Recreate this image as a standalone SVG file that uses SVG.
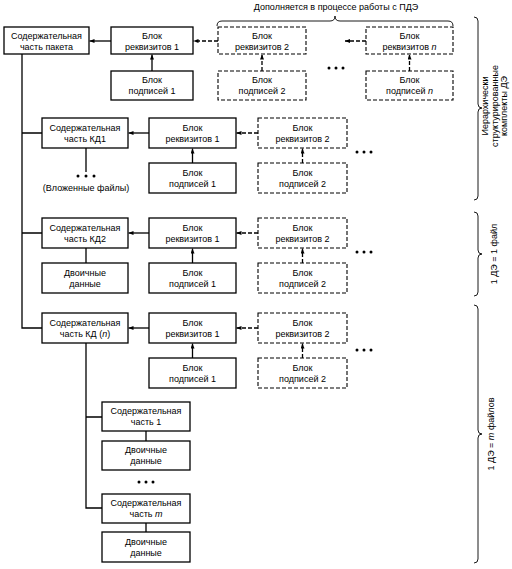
<svg xmlns="http://www.w3.org/2000/svg" width="512" height="569" viewBox="0 0 512 569">
<defs>
<style>
.b{fill:#fff;stroke:#000;stroke-width:1.3}
.d{fill:#fff;stroke:#000;stroke-width:1.1;stroke-dasharray:4 2}
text{font-family:"Liberation Sans",Arial,sans-serif;font-size:9px;fill:#000;text-anchor:middle}
.c{fill:none;stroke:#000;stroke-width:1.3}
.cd{fill:none;stroke:#000;stroke-width:1.3;stroke-dasharray:4 2}
.br{fill:none;stroke:#000;stroke-width:0.9}
</style>
<marker id="a" markerWidth="5" markerHeight="4" refX="5" refY="2" orient="auto" markerUnits="userSpaceOnUse"><path d="M0,0L5,2L0,4Z" fill="#000"/></marker>
</defs>
<rect width="512" height="569" fill="#fff"/>
<g id="connectors">
<path class="c" d="M22 54V328H42M22 133H42M22 233H42"/>
<path class="c" d="M86 148V172M86 248V263M86 343V508H102M86 417H102M146 431V441M146 523V532"/>
<line class="c" x1="111" y1="41" x2="89.5" y2="41" marker-end="url(#a)"/>
<line class="c" x1="152" y1="71" x2="152" y2="54.5" marker-end="url(#a)"/>
<line class="cd" x1="218" y1="41" x2="193.5" y2="41" marker-end="url(#a)"/>
<line class="cd" x1="262" y1="71" x2="262" y2="54.5" marker-end="url(#a)"/>
<line class="cd" x1="366" y1="41" x2="345" y2="41" marker-end="url(#a)"/>
<line class="cd" x1="409.5" y1="71" x2="409.5" y2="54.5" marker-end="url(#a)"/>
<line class="c" x1="149" y1="133" x2="128.5" y2="133" marker-end="url(#a)"/>
<line class="c" x1="192.5" y1="163" x2="192.5" y2="148.5" marker-end="url(#a)"/>
<line class="cd" x1="258" y1="133" x2="236.5" y2="133" marker-end="url(#a)"/>
<line class="cd" x1="302.5" y1="163" x2="302.5" y2="148.5" marker-end="url(#a)"/>
<line class="c" x1="149" y1="233" x2="128.5" y2="233" marker-end="url(#a)"/>
<line class="c" x1="192.5" y1="263" x2="192.5" y2="248.5" marker-end="url(#a)"/>
<line class="cd" x1="258" y1="233" x2="236.5" y2="233" marker-end="url(#a)"/>
<line class="cd" x1="302.5" y1="263" x2="302.5" y2="248.5" marker-end="url(#a)"/>
<line class="c" x1="149" y1="328" x2="128.5" y2="328" marker-end="url(#a)"/>
<line class="c" x1="192.5" y1="358" x2="192.5" y2="343.5" marker-end="url(#a)"/>
<line class="cd" x1="258" y1="328" x2="236.5" y2="328" marker-end="url(#a)"/>
<line class="cd" x1="302.5" y1="358" x2="302.5" y2="343.5" marker-end="url(#a)"/>
</g>
<g id="dots">
<circle cx="329" cy="68" r="1.5"/><circle cx="336" cy="68" r="1.5"/><circle cx="343" cy="68" r="1.5"/>
<circle cx="357" cy="152" r="1.5"/><circle cx="364" cy="152" r="1.5"/><circle cx="371" cy="152" r="1.5"/>
<circle cx="357" cy="252" r="1.5"/><circle cx="364" cy="252" r="1.5"/><circle cx="371" cy="252" r="1.5"/>
<circle cx="357" cy="350" r="1.5"/><circle cx="364" cy="350" r="1.5"/><circle cx="371" cy="350" r="1.5"/>
<circle cx="78" cy="176" r="1.5"/><circle cx="86" cy="176" r="1.5"/><circle cx="94" cy="176" r="1.5"/>
<circle cx="139" cy="482" r="1.5"/><circle cx="146" cy="482" r="1.5"/><circle cx="153" cy="482" r="1.5"/>
</g>
<g id="pkg"><rect class="b" x="4" y="27" width="85" height="27"/><text x="46.5" y="38.5">Содержательная</text><text x="46.5" y="49.5">часть пакета</text></g>
<g id="r1_1"><rect class="b" x="111" y="27" width="82" height="27"/><text x="152" y="38.5">Блок</text><text x="152" y="49.5">реквизитов 1</text></g>
<g id="s1_1"><rect class="b" x="111" y="71" width="82" height="29"/><text x="152" y="83">Блок</text><text x="152" y="94">подписей 1</text></g>
<g id="r1_2"><rect class="d" x="218" y="27" width="88" height="27"/><text x="262" y="38.5">Блок</text><text x="262" y="49.5">реквизитов 2</text></g>
<g id="s1_2"><rect class="d" x="218" y="71" width="88" height="29"/><text x="262" y="83">Блок</text><text x="262" y="94">подписей 2</text></g>
<g id="r1_n"><rect class="d" x="366" y="27" width="87" height="27"/><text x="409.5" y="38.5">Блок</text><text x="409.5" y="49.5">реквизитов <tspan font-style="italic">n</tspan></text></g>
<g id="s1_n"><rect class="d" x="366" y="71" width="87" height="29"/><text x="409.5" y="83">Блок</text><text x="409.5" y="94">подписей <tspan font-style="italic">n</tspan></text></g>
<g id="kd1"><rect class="b" x="42" y="118" width="86" height="30"/><text x="85" y="131">Содержательная</text><text x="85" y="142">часть КД1</text></g>
<g id="r2_1"><rect class="b" x="149" y="118" width="87" height="30"/><text x="192.5" y="131">Блок</text><text x="192.5" y="142">реквизитов 1</text></g>
<g id="s2_1"><rect class="b" x="149" y="163" width="87" height="30"/><text x="192.5" y="176">Блок</text><text x="192.5" y="187">подписей 1</text></g>
<g id="r2_2"><rect class="d" x="258" y="118" width="89" height="30"/><text x="302.5" y="131">Блок</text><text x="302.5" y="142">реквизитов 2</text></g>
<g id="s2_2"><rect class="d" x="258" y="163" width="89" height="30"/><text x="302.5" y="176">Блок</text><text x="302.5" y="187">подписей 2</text></g>
<g id="nested"><text x="86" y="190.5">(Вложенные файлы)</text></g>
<g id="kd2"><rect class="b" x="42" y="218" width="86" height="30"/><text x="85" y="231">Содержательная</text><text x="85" y="242">часть КД2</text></g>
<g id="bin2"><rect class="b" x="42" y="263" width="86" height="30"/><text x="85" y="276">Двоичные</text><text x="85" y="287">данные</text></g>
<g id="r3_1"><rect class="b" x="149" y="218" width="87" height="30"/><text x="192.5" y="231">Блок</text><text x="192.5" y="242">реквизитов 1</text></g>
<g id="s3_1"><rect class="b" x="149" y="263" width="87" height="30"/><text x="192.5" y="276">Блок</text><text x="192.5" y="287">подписей 1</text></g>
<g id="r3_2"><rect class="d" x="258" y="218" width="89" height="30"/><text x="302.5" y="231">Блок</text><text x="302.5" y="242">реквизитов 2</text></g>
<g id="s3_2"><rect class="d" x="258" y="263" width="89" height="30"/><text x="302.5" y="276">Блок</text><text x="302.5" y="287">подписей 2</text></g>
<g id="kdn"><rect class="b" x="42" y="313" width="86" height="30"/><text x="85" y="326">Содержательная</text><text x="85" y="337">часть КД (<tspan font-style="italic">n</tspan>)</text></g>
<g id="r4_1"><rect class="b" x="149" y="313" width="87" height="30"/><text x="192.5" y="326">Блок</text><text x="192.5" y="337">реквизитов 1</text></g>
<g id="s4_1"><rect class="b" x="149" y="358" width="87" height="30"/><text x="192.5" y="371">Блок</text><text x="192.5" y="382">подписей 1</text></g>
<g id="r4_2"><rect class="d" x="258" y="313" width="89" height="30"/><text x="302.5" y="326">Блок</text><text x="302.5" y="337">реквизитов 2</text></g>
<g id="s4_2"><rect class="d" x="258" y="358" width="89" height="30"/><text x="302.5" y="371">Блок</text><text x="302.5" y="382">подписей 2</text></g>
<g id="sub1"><rect class="b" x="102" y="402" width="88" height="29"/><text x="146" y="414">Содержательная</text><text x="146" y="425">часть 1</text></g>
<g id="bin_1"><rect class="b" x="102" y="441" width="88" height="29"/><text x="146" y="453">Двоичные</text><text x="146" y="464">данные</text></g>
<g id="subm"><rect class="b" x="102" y="494" width="88" height="29"/><text x="146" y="506">Содержательная</text><text x="146" y="517">часть <tspan font-style="italic">m</tspan></text></g>
<g id="bin_m"><rect class="b" x="102" y="532" width="88" height="30"/><text x="146" y="544.5">Двоичные</text><text x="146" y="555.5">данные</text></g>
<g id="brace_top">
<path class="br" d="M217 26Q217 21 222 21H330Q335 21 335 16Q335 21 340 21H448Q453 21 453 26"/>
<text x="336" y="10">Дополняется в процессе работы с ПДЭ</text>
</g>
<g id="brace_1">
<path class="br" d="M474 17Q478 17 478 21V104Q478 108 482 108Q478 108 478 112V196Q478 200 474 200"/>
<text transform="translate(489 106) rotate(-90)" y="-1">Иерархически</text>
<text transform="translate(489 106) rotate(-90)" y="8.5">структурированные</text>
<text transform="translate(489 106) rotate(-90)" y="18">комплекты ДЭ</text>
</g>
<g id="brace_2">
<path class="br" d="M474 212Q478 212 478 216V250Q478 254 482 254Q478 254 478 258V292Q478 296 474 296"/>
<text transform="translate(496.5 254) rotate(-90)">1 ДЭ = 1 файл</text>
</g>
<g id="brace_3">
<path class="br" d="M474 305Q478 305 478 309V430Q478 434 482 434Q478 434 478 438V559Q478 563 474 563"/>
<text transform="translate(494 434) rotate(-90)">1 ДЭ = <tspan font-style="italic">m</tspan> файлов</text>
</g>
</svg>
